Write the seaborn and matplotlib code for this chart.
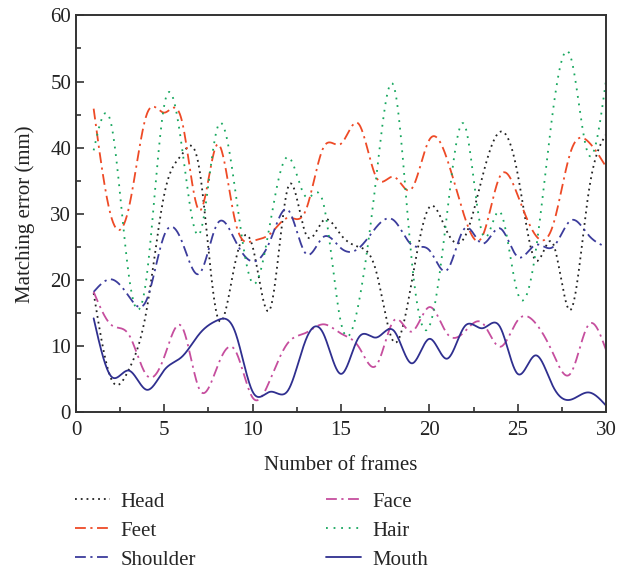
import numpy as np
import pandas as pd
import matplotlib
matplotlib.use("Agg")
import matplotlib.pyplot as plt
from matplotlib.ticker import MultipleLocator
import seaborn as sns

# Matching error (mm) per frame for each tracked body part
frames = list(range(1, 31))
head = [18.0, 5.0, 6.5, 15.5, 33.0, 39.0, 36.5, 14.5, 22.5, 25.0,
        15.7, 34.0, 27.0, 29.0, 26.8, 25.0, 21.2, 10.6, 19.7, 31.0,
        27.3, 26.5, 35.6, 42.4, 36.0, 23.0, 25.5, 15.5, 33.0, 42.0]
feet = [45.9, 29.5, 31.0, 45.0, 45.3, 44.0, 30.5, 40.5, 29.0, 25.9,
        27.0, 29.4, 30.5, 40.0, 40.6, 43.6, 35.5, 35.6, 33.8, 41.2,
        38.3, 29.5, 26.6, 35.7, 32.8, 26.8, 28.3, 39.4, 40.9, 37.1]
shoulder = [18.2, 20.1, 17.5, 17.0, 26.8, 25.8, 21.0, 28.5, 26.0, 22.8,
            26.0, 30.6, 24.0, 26.5, 24.8, 24.8, 28.0, 29.0, 25.3, 24.5,
            21.5, 27.8, 25.5, 27.8, 23.5, 25.3, 25.0, 29.0, 26.8, 25.0]
face = [18.2, 13.2, 11.7, 5.6, 8.4, 12.9, 3.4, 6.9, 9.4, 2.2,
        5.0, 10.5, 12.0, 13.3, 11.9, 9.9, 7.1, 13.9, 12.2, 15.9,
        11.9, 12.2, 13.5, 9.9, 13.9, 13.5, 8.9, 5.9, 13.2, 9.4]
hair = [39.6, 43.5, 20.5, 20.5, 46.5, 40.0, 27.0, 43.0, 33.8, 19.5,
        28.8, 38.6, 32.6, 31.6, 13.5, 16.5, 35.6, 49.2, 23.0, 13.0,
        30.0, 43.4, 27.0, 30.3, 18.0, 24.0, 45.7, 53.7, 39.0, 50.2]
mouth = [14.2, 5.4, 6.3, 3.4, 6.4, 8.4, 11.9, 13.9, 12.2, 3.1,
         3.1, 3.3, 10.9, 11.9, 5.8, 11.3, 11.3, 12.3, 7.4, 11.1,
         8.1, 13.0, 12.7, 12.9, 5.8, 8.6, 3.9, 1.9, 3.0, 1.0]

series_names = ["Head", "Feet", "Shoulder", "Face", "Hair", "Mouth"]
series_values = [head, feet, shoulder, face, hair, mouth]

colors = {"Head": "#222222", "Feet": "#EE4A26", "Shoulder": "#3C3C9C",
          "Face": "#C64E9E", "Hair": "#17A75E", "Mouth": "#2F2F8F"}
dashes = {"Head": (1, 2.2), "Feet": (6, 2.5, 1.2, 2.5),
          "Shoulder": (6, 2.5, 1.2, 2.5), "Face": (6, 2.5, 1.2, 2.5),
          "Hair": (1, 3.2), "Mouth": ""}


def natural_spline(x, y, num=40):
    """Natural cubic spline through (x, y), sampled num points per interval."""
    x = np.asarray(x, float)
    y = np.asarray(y, float)
    n = len(x)
    h = np.diff(x)
    A = np.zeros((n, n))
    b = np.zeros(n)
    A[0, 0] = A[-1, -1] = 1.0
    for i in range(1, n - 1):
        A[i, i - 1] = h[i - 1]
        A[i, i] = 2 * (h[i - 1] + h[i])
        A[i, i + 1] = h[i]
        b[i] = 3 * ((y[i + 1] - y[i]) / h[i] - (y[i] - y[i - 1]) / h[i - 1])
    c = np.linalg.solve(A, b)
    xs, ys = [], []
    for i in range(n - 1):
        bi = (y[i + 1] - y[i]) / h[i] - h[i] * (2 * c[i] + c[i + 1]) / 3
        di = (c[i + 1] - c[i]) / (3 * h[i])
        t = np.linspace(0, h[i], num, endpoint=(i == n - 2))
        xs.append(x[i] + t)
        ys.append(y[i] + bi * t + c[i] * t ** 2 + di * t ** 3)
    return np.concatenate(xs), np.concatenate(ys)


rows = []
for name, vals in zip(series_names, series_values):
    xs, ys = natural_spline(frames, vals)
    rows.append(pd.DataFrame({"frame": xs, "error": ys, "part": name}))
df = pd.concat(rows, ignore_index=True)

sns.set_style("ticks")
plt.rcParams["font.family"] = ["Liberation Serif", "DejaVu Serif"]
plt.rcParams["font.size"] = 15

fig = plt.figure(figsize=(6.3, 5.71), dpi=100)
ax = fig.add_axes([0.1206, 0.278, 0.8414, 0.695])

sns.lineplot(data=df, x="frame", y="error", hue="part", style="part",
             hue_order=series_names, style_order=series_names,
             palette=colors, dashes=dashes, linewidth=1.3,
             sort=False, estimator=None, ax=ax)

ax.set_xlim(0, 30)
ax.set_ylim(0, 60)
ax.xaxis.set_major_locator(MultipleLocator(5))
ax.xaxis.set_minor_locator(MultipleLocator(2.5))
ax.yaxis.set_major_locator(MultipleLocator(10))
ax.yaxis.set_minor_locator(MultipleLocator(5))
ax.tick_params(which="both", direction="in", colors="#333333",
               labelcolor="#222222", labelsize=15, width=1.2)
ax.tick_params(which="major", length=6)
ax.tick_params(axis="x", which="both", pad=6)
ax.tick_params(which="minor", length=3.5)
for side in ["left", "right", "top", "bottom"]:
    ax.spines[side].set_visible(True)
    ax.spines[side].set_color("#333333")
    ax.spines[side].set_linewidth(1.4)

ax.set_xlabel("Number of frames", fontsize=15, color="#222222", labelpad=12)
ax.set_ylabel("Matching error (mm)", fontsize=15, color="#222222", labelpad=11)

handles, labels = ax.get_legend_handles_labels()
ax.get_legend().remove()
fig.legend(handles, labels, ncol=2, loc="upper left",
           bbox_to_anchor=(0.0885, 0.171), frameon=False, fontsize=15,
           handlelength=1.7, handletextpad=0.5, columnspacing=6.25,
           labelspacing=0.45)

fig.savefig("out.png", dpi=100)
